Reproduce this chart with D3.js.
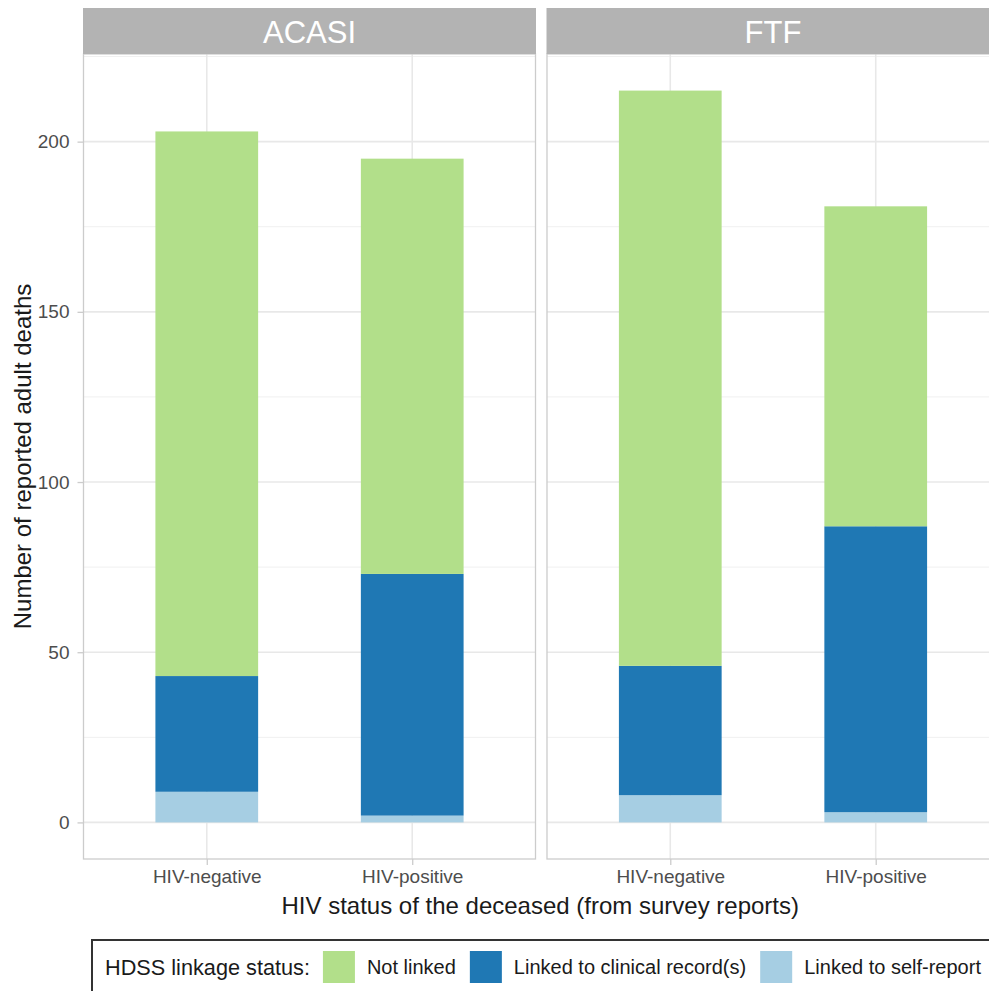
<!DOCTYPE html>
<html>
<head>
<meta charset="utf-8">
<script src="https://cdn.jsdelivr.net/npm/d3@7"></script>
<style>
  html, body { margin: 0; padding: 0; background: #ffffff; overflow: hidden; }
  svg { display: block; font-family: "Liberation Sans", Arial, Helvetica, sans-serif; }
</style>
</head>
<body>
<svg id="chart" width="989" height="991"></svg>
<script>
// ---------------- data ----------------
const facets = ["ACASI", "FTF"];
const categories = ["HIV-negative", "HIV-positive"];
const seriesKeys = ["Linked to self-report", "Linked to clinical record(s)", "Not linked"]; // stacking order bottom -> top
const legendKeys = ["Not linked", "Linked to clinical record(s)", "Linked to self-report"];
const seriesColors = ["#A6CEE3", "#1F78B4", "#B2DF8A"];

const acasiSelfReport = [9, 2];
const acasiClinical   = [34, 71];
const acasiNotLinked  = [160, 122];

const ftfSelfReport = [8, 3];
const ftfClinical   = [38, 84];
const ftfNotLinked  = [169, 94];

const yTicks = [0, 50, 100, 150, 200];
const yMinorTicks = [25, 75, 125, 175, 225];

const yTitle = "Number of reported adult deaths";
const xTitle = "HIV status of the deceased (from survey reports)";
const legendTitle = "HDSS linkage status:";

// build table
function buildRows(self, clin, notl) {
  return categories.map((c, i) => ({
    category: c,
    "Linked to self-report": self[i],
    "Linked to clinical record(s)": clin[i],
    "Not linked": notl[i]
  }));
}
const facetData = {
  "ACASI": buildRows(acasiSelfReport, acasiClinical, acasiNotLinked),
  "FTF": buildRows(ftfSelfReport, ftfClinical, ftfNotLinked)
};

// ---------------- layout ----------------
const svg = d3.select("#chart");
const panelTop = 54, panelBottom = 859;
const panelW = 452;
const panelLefts = [83.5, 547];
const stripTop = 8;

const color = d3.scaleOrdinal().domain(seriesKeys).range(seriesColors);

const maxTotal = d3.max(Object.values(facetData).flat(), d => d3.sum(seriesKeys, k => d[k]));
const pad = maxTotal * 0.05;
const y = d3.scaleLinear().domain([-pad, maxTotal + pad]).range([panelBottom, panelTop]);

const stack = d3.stack().keys(seriesKeys);

facets.forEach((f, fi) => {
  const left = panelLefts[fi];
  const x = d3.scalePoint().domain(categories).range([left, left + panelW]).padding(0.6);
  const barW = x.step() * 0.5;
  const g = svg.append("g");

  // grid
  g.selectAll(".minor").data(yMinorTicks.filter(t => y(t) >= panelTop && y(t) <= panelBottom)).join("line")
    .attr("x1", left).attr("x2", left + panelW)
    .attr("y1", d => y(d)).attr("y2", d => y(d))
    .attr("stroke", "#F0F0F0").attr("stroke-width", 1);
  g.selectAll(".major").data(yTicks).join("line")
    .attr("x1", left).attr("x2", left + panelW)
    .attr("y1", d => y(d)).attr("y2", d => y(d))
    .attr("stroke", "#E8E8E8").attr("stroke-width", 1.6);
  g.selectAll(".vmajor").data(categories).join("line")
    .attr("x1", d => x(d)).attr("x2", d => x(d))
    .attr("y1", panelTop).attr("y2", panelBottom)
    .attr("stroke", "#E8E8E8").attr("stroke-width", 1.6);

  // bars
  const stacked = stack(facetData[f]);
  stacked.forEach(layer => {
    g.selectAll(null).data(layer).join("rect")
      .attr("x", d => x(d.data.category) - barW / 2)
      .attr("width", barW)
      .attr("y", d => y(d[1]))
      .attr("height", d => y(d[0]) - y(d[1]))
      .attr("fill", color(layer.key));
  });

  // panel border
  g.append("rect")
    .attr("x", left).attr("y", panelTop)
    .attr("width", panelW).attr("height", panelBottom - panelTop)
    .attr("fill", "none").attr("stroke", "#CCCCCC").attr("stroke-width", 1.3);

  // strip
  g.append("rect")
    .attr("x", left - 0.5).attr("y", stripTop)
    .attr("width", panelW + 1).attr("height", panelTop - stripTop)
    .attr("fill", "#B3B3B3");
  g.append("text")
    .attr("x", left + panelW / 2).attr("y", (stripTop + panelTop) / 2 + 1)
    .attr("text-anchor", "middle").attr("dominant-baseline", "central")
    .attr("fill", "#ffffff").attr("font-size", 31)
    .text(f);

  // x axis
  const xAxis = d3.axisBottom(x).tickSize(6).tickPadding(5);
  const xa = g.append("g").attr("transform", `translate(0,${panelBottom})`).call(xAxis);
  xa.select(".domain").remove();
  xa.selectAll(".tick line").attr("stroke", "#CCCCCC").attr("stroke-width", 1.3);
  xa.selectAll(".tick text").attr("fill", "#4D4D4D").attr("font-size", 19)
    .attr("font-family", "Liberation Sans, Arial, sans-serif");

  // y axis (left panel only)
  if (fi === 0) {
    const yAxis = d3.axisLeft(y).tickValues(yTicks).tickSize(6).tickPadding(8);
    const ya = g.append("g").attr("transform", `translate(${left},0)`).call(yAxis);
    ya.select(".domain").remove();
    ya.selectAll(".tick line").attr("stroke", "#CCCCCC").attr("stroke-width", 1.3);
    ya.selectAll(".tick text").attr("fill", "#4D4D4D").attr("font-size", 19)
      .attr("font-family", "Liberation Sans, Arial, sans-serif");
  }
});

// axis titles
svg.append("text")
  .attr("x", (panelLefts[0] + panelLefts[1] + panelW) / 2 - 1).attr("y", 905)
  .attr("text-anchor", "middle").attr("dominant-baseline", "central")
  .attr("font-size", 24).attr("fill", "#1a1a1a")
  .text(xTitle);
svg.append("text")
  .attr("transform", `translate(22,${(panelTop + panelBottom) / 2}) rotate(-90)`)
  .attr("text-anchor", "middle").attr("dominant-baseline", "central")
  .attr("font-size", 24).attr("fill", "#1a1a1a")
  .text(yTitle);

// legend
const lg = svg.append("g");
lg.append("rect")
  .attr("x", 92).attr("y", 940).attr("width", 930).attr("height", 60)
  .attr("fill", "#ffffff").attr("stroke", "#333333").attr("stroke-width", 2);
const legendCY = 967;
const lt = lg.append("text")
  .attr("x", 105).attr("y", legendCY)
  .attr("dominant-baseline", "central")
  .attr("font-size", 21.7).attr("fill", "#1a1a1a")
  .text(legendTitle);
let cx = 105 + lt.node().getComputedTextLength() + 13;
legendKeys.forEach(k => {
  lg.append("rect")
    .attr("x", cx).attr("y", legendCY - 16).attr("width", 32).attr("height", 32)
    .attr("fill", color(k));
  cx += 32 + 12;
  const t = lg.append("text")
    .attr("x", cx).attr("y", legendCY)
    .attr("dominant-baseline", "central")
    .attr("font-size", 20).attr("fill", "#1a1a1a")
    .text(k);
  cx += t.node().getComputedTextLength() + 14;
});
</script>
</body>
</html>
